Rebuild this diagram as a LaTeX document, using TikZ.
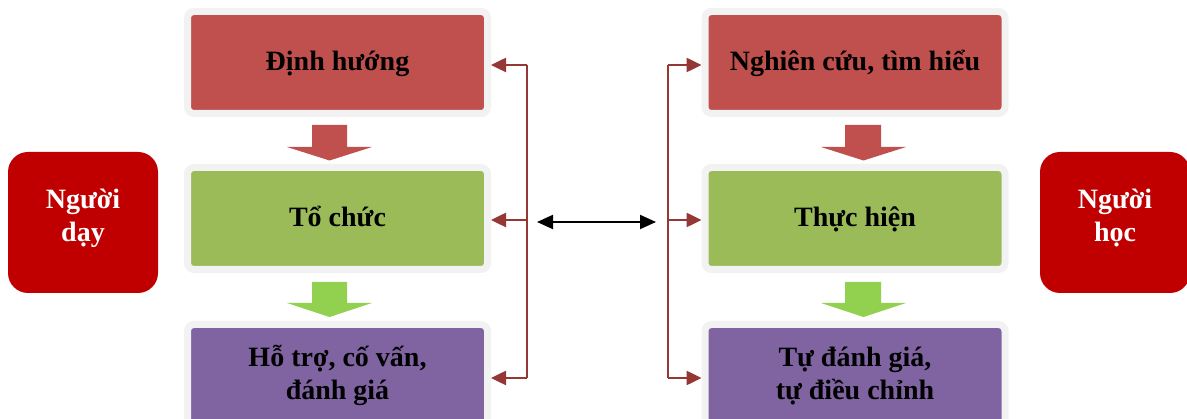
\documentclass[tikz,border=0pt]{standalone}
\usepackage{fontspec}
\setmainfont{Liberation Serif}
\usetikzlibrary{arrows.meta}
\definecolor{redbox}{HTML}{C0504D}
\definecolor{greenbox}{HTML}{9BBB59}
\definecolor{purplebox}{HTML}{8064A2}
\definecolor{framegray}{HTML}{F2F2F2}
\definecolor{greenarrow}{HTML}{92D050}
\definecolor{connred}{HTML}{953735}
\definecolor{actorred}{HTML}{C00000}
\begin{document}
\begin{tikzpicture}[x=1pt,y=-1pt,
  stage/.style={draw=framegray, line width=7pt, rounded corners=6.5pt,
    minimum width=300pt, minimum height=102pt, inner sep=0pt, align=center,
    text=black, font=\fontsize{28}{33}\selectfont\bfseries},
  oneline/.style={text height=26pt, text depth=9pt},
  twoline/.style={text height=57pt, text depth=9pt},
  actor/.style={fill=actorred, rounded corners=20pt, minimum width=150pt,
    minimum height=141pt, inner sep=0pt, align=center, text=white,
    text height=47pt, text depth=9pt,
    font=\fontsize{28}{33}\selectfont\bfseries},
  link/.style={draw=connred, line width=2.5pt, -{Triangle[length=15pt,width=14pt]}},
  spine/.style={draw=connred, line width=1.6pt},
  both/.style={draw=black, line width=2pt,
    {Triangle[length=16pt,width=14pt]}-{Triangle[length=16pt,width=14pt]}}
]
\useasboundingbox (0,0) rectangle (1187,419);
\clip (0,0) rectangle (1187,419);

% actors
\node[actor] (teacher) at (83,222.5) {Người\\dạy};
\node[actor] (learner) at (1115,222.5) {Người\\học};

% left column
\node[stage, oneline, fill=redbox] (L1) at (337.5,62.5) {Định hướng};
\node[stage, oneline, fill=greenbox] (L2) at (337.5,218.5) {Tổ chức};
\node[stage, twoline, fill=purplebox] (L3) at (337.5,375.5) {Hỗ trợ, cố vấn,\\đánh giá};

% right column
\node[stage, oneline, fill=redbox] (R1) at (855,62.5) {Nghiên cứu, tìm hiểu};
\node[stage, oneline, fill=greenbox] (R2) at (855,218.5) {Thực hiện};
\node[stage, twoline, fill=purplebox] (R3) at (855,375.5) {Tự đánh giá,\\tự điều chỉnh};

% block arrows
\fill[redbox] (312,125) -- (347,125) -- (347,147) -- (372,147) -- (329.5,160.5)
  -- (287,147) -- (312,147) -- cycle;
\fill[greenarrow] (312,282) -- (347,282) -- (347,303) -- (372,303) -- (329.5,317)
  -- (287,303) -- (312,303) -- cycle;
\fill[redbox] (845,125) -- (881,125) -- (881,147) -- (906,147) -- (863.5,160.5)
  -- (821,147) -- (845,147) -- cycle;
\fill[greenarrow] (845,282) -- (881,282) -- (881,303) -- (906,303) -- (863.5,317)
  -- (821,303) -- (845,303) -- cycle;

% connector spines
\coordinate (lt) at (527,65);
\coordinate (lm) at (527,220);
\coordinate (lb) at (527,378);
\coordinate (rt) at (668,65);
\coordinate (rm) at (668,220);
\coordinate (rb) at (668,378);
\draw[spine] (lt) -- (lb);
\draw[spine] (rt) -- (rb);
\draw[link] (lt) -- (lt -| L1.east);
\draw[link] (lm) -- (lm -| L2.east);
\draw[link] (lb) -- (lb -| L3.east);
\draw[link] (rt) -- (rt -| R1.west);
\draw[link] (rm) -- (rm -| R2.west);
\draw[link] (rb) -- (rb -| R3.west);

% double arrow
\coordinate (dl) at (537,222);
\coordinate (dr) at (656,222);
\draw[both] (dl) -- (dr);
\end{tikzpicture}
\end{document}
